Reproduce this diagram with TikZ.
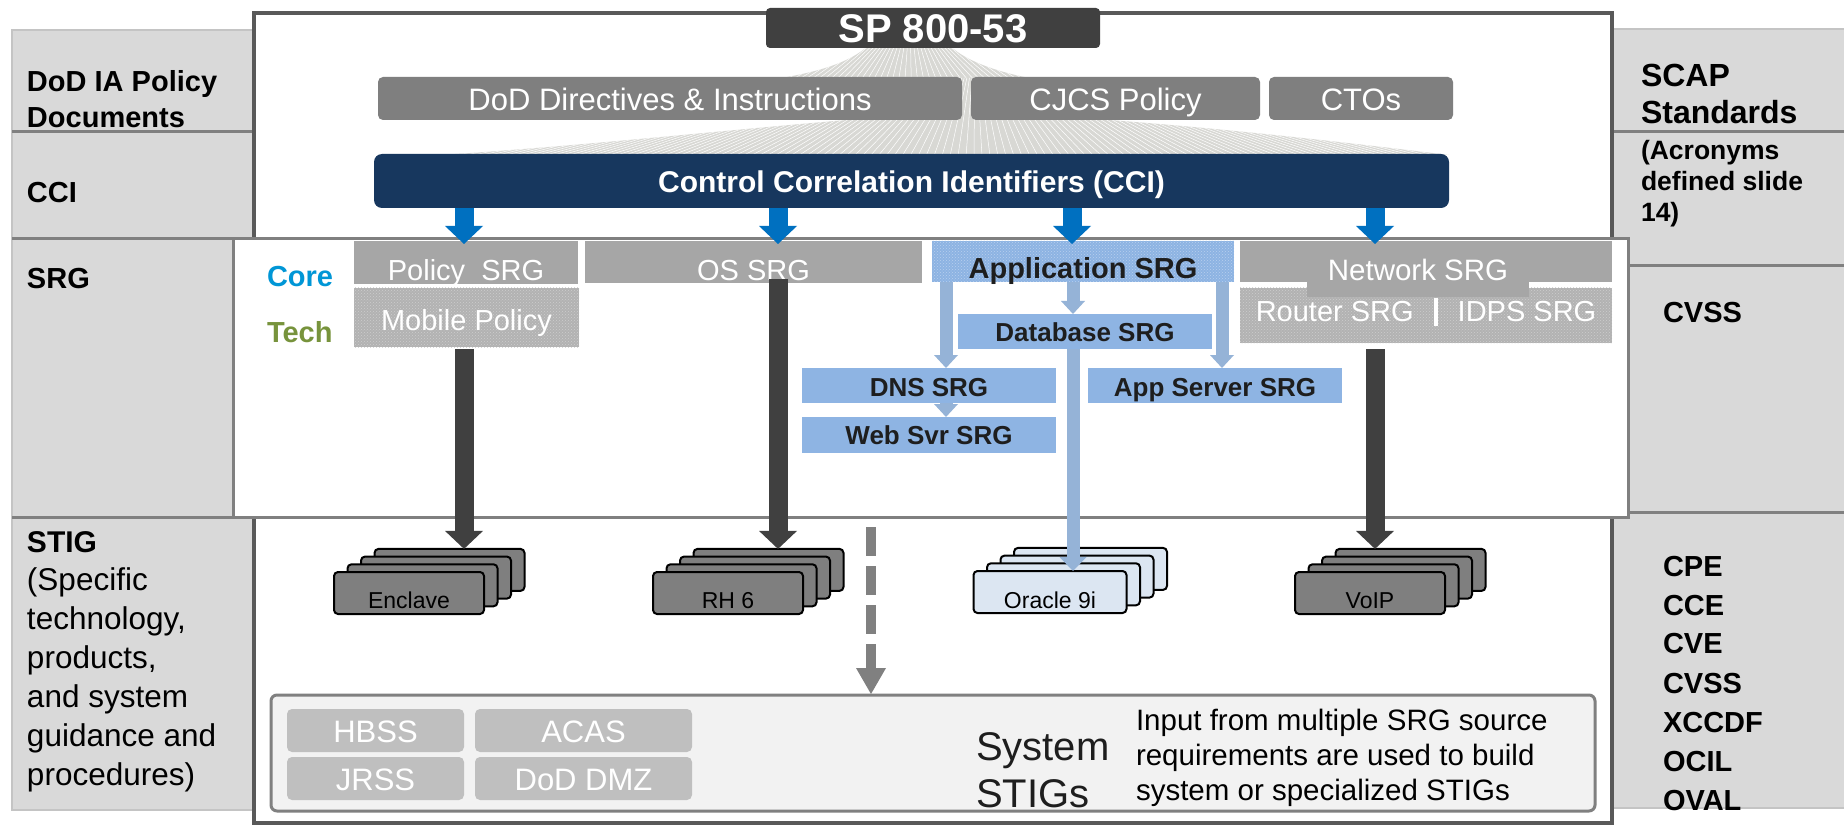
\documentclass[tikz,border=0pt]{standalone}
\usepackage{fontspec}
\setmainfont{Liberation Sans}
\usetikzlibrary{calc,patterns}
\definecolor{colgray}{HTML}{D9D9D9}
\definecolor{divc}{HTML}{808080}
\definecolor{edgec}{HTML}{C4C4C4}
\definecolor{framec}{HTML}{595959}
\definecolor{spc}{HTML}{404040}
\definecolor{rowc}{HTML}{7F7F7F}
\definecolor{navyc}{HTML}{17375E}
\definecolor{cciblue}{HTML}{0070C0}
\definecolor{srgc}{HTML}{A6A6A6}
\definecolor{dotc}{HTML}{B2B2B2}
\definecolor{dotlc}{HTML}{CDCDCD}
\definecolor{appc}{HTML}{8DB3E2}
\definecolor{applc}{HTML}{B8D0EF}
\definecolor{lbluec}{HTML}{8EB4E3}
\definecolor{arrbluec}{HTML}{95B3D7}
\definecolor{corec}{HTML}{0096D6}
\definecolor{techc}{HTML}{77933C}
\definecolor{darkc}{HTML}{404040}
\definecolor{cardc}{HTML}{7F7F7F}
\definecolor{cardbc}{HTML}{DCE6F2}
\definecolor{sysc}{HTML}{F2F2F2}
\definecolor{smallc}{HTML}{BFBFBF}
\definecolor{dashc}{HTML}{808080}
\definecolor{txtc}{HTML}{1E1E1E}
\definecolor{fanc}{HTML}{D8D8D4}
\newcommand\fsz[1]{\fontsize{#1}{#1}\selectfont}
\newcommand\ahead[4]{\fill[#1] #2 -- ++(-#3,-#4) -- ++(2*#3,0) -- cycle;}
\newcommand\cardstack[5]{\foreach \k in {3,2,1,0}{\node[card,fill=#4,minimum width=#5pt] (#1\k) at ({#2+13.5*\k},{#3-7.7*\k}) {};}}
\begin{document}
\begin{tikzpicture}[x=1pt,y=-1pt,
  every node/.style={inner sep=0pt,outer sep=0pt},
  box/.style={rectangle,anchor=north west,text depth=0pt},
  rowbox/.style={box,fill=rowc,rounded corners=5pt,text=white,font=\fsz{31},text height=25pt,minimum height=43pt},
  srgbox/.style={box,fill=srgc,text=white,font=\fsz{29}},
  dotbox/.style={box,fill=dotc,postaction={pattern=crosshatch dots,pattern color=dotlc},text=white,font=\fsz{29}},
  bluebox/.style={box,fill=lbluec,text=txtc,font=\fsz{26}\bfseries,minimum width=254pt},
  card/.style={rectangle,draw=black,line width=2pt,rounded corners=4pt,minimum height=42pt},
  cardtext/.style={anchor=base,font=\fsz{23},text=black},
  smallbox/.style={box,fill=smallc,rounded corners=5pt,text=white,font=\fsz{31},text height=23pt,minimum height=43pt},
  lab/.style={anchor=base west,font=\fsz{29}\bfseries,text=black},
  rlab/.style={anchor=base west,font=\fsz{32}\bfseries,text=black},
  slab/.style={anchor=base west,font=\fsz{26.5}\bfseries,text=black},
  desc/.style={anchor=base west,font=\fsz{31.5},text=black},
  note/.style={anchor=base west,font=\fsz{29.5},text=black}]
\useasboundingbox (0,0) rectangle (1844,826);
% side columns
\fill[colgray] (12,30) rectangle (254,810);
\draw[edgec,line width=2pt] (254,30) -- (12,30) -- (12,810) -- (254,810);
\draw[divc,line width=3pt] (12,132) -- (254,132);
\draw[divc,line width=3pt] (12,239) -- (233,239);
\draw[divc,line width=3pt] (12,517.5) -- (233,517.5);
\fill[colgray] (1612,29) rectangle (1844,808);
\draw[edgec,line width=2pt] (1612,29) -- (1844,29);
\draw[edgec,line width=2pt] (1612,808) -- (1844,808);
\draw[divc,line width=3pt] (1610,132) -- (1844,132);
\draw[divc,line width=3pt] (1628,266) -- (1844,266);
\draw[divc,line width=3pt] (1628,512) -- (1844,512);
% main frame
\draw[framec,line width=4pt,fill=white] (254,13) rectangle (1612,823);
% fans
\begin{scope}
  \clip (868,46) .. controls (850,62) and (820,72) .. (775,79) -- (1035,79) .. controls (995,72) and (965,60) .. (950,46) -- cycle;
  \fill[fanc] (760,40) rectangle (1050,80);
  \foreach \i in {0,...,45} \draw[white,line width=0.5pt] (910,10) -- ({760+6.3*\i},80);
\end{scope}
\begin{scope}
  \clip (900,78) -- (900,116) .. controls (780,124) and (600,145) .. (440,155) -- (1449,155) .. controls (1350,143) and (1200,125) .. (1050,116) -- (1050,78) -- cycle;
  \fill[fanc] (430,70) rectangle (1460,156);
  \foreach \i in {0,...,130} \draw[white,line width=0.5pt] (975,40) -- ({430+8*\i},156);
\end{scope}
% top boxes
\node[box,fill=spc,rounded corners=4pt,minimum width=334pt,minimum height=40pt,text=white,font=\fsz{40}\bfseries,text height=30pt] (sp) at (766,8) {SP 800-53};
\node[rowbox,minimum width=584pt] (dod) at (378,77) {DoD Directives \& Instructions};
\node[rowbox,minimum width=289pt] (cjcs) at (971,77) {CJCS Policy};
\node[rowbox,minimum width=184pt] (ctos) at (1269,77) {CTOs};
\node[box,fill=navyc,rounded corners=8pt,minimum width=1075pt,minimum height=54pt,text=white,font=\fsz{30}\bfseries,text height=24pt] (cci) at (374,154) {Control Correlation Identifiers (CCI)};
% SRG box
\node[box,draw=divc,line width=3pt,fill=white,minimum width=1395pt,minimum height=279pt] (srg) at (233,238.5) {};
\node[srgbox,minimum width=224pt,minimum height=43pt,text height=35pt] (psrg) at (354,241) {Policy\ \ SRG};
\node[srgbox,minimum width=337pt,minimum height=42pt,text height=36pt] (ossrg) at (585,241) {OS SRG};
\node[box,fill=appc,postaction={pattern=crosshatch dots,pattern color=applc},text=txtc,font=\fsz{29}\bfseries,minimum width=302pt,minimum height=41pt,text height=35pt] (appsrg) at (932,241) {Application SRG};
\node[srgbox,minimum width=372pt,minimum height=41pt] (netsrg) at (1240,241) {};
\node[dotbox,minimum width=225pt,minimum height=59pt,text height=25pt] (mobile) at (354,288) {Mobile Policy};
\node[dotbox,minimum width=372pt,minimum height=55pt,text height=11pt] (router) at (1240,288) {Router SRG\hspace{20pt}\rule[-5pt]{4pt}{28pt}\hspace{20pt}IDPS SRG};
\node[srgbox,minimum width=222pt,minimum height=56pt,text height=22pt,font=\fsz{29.5}] (nettab) at (1307,241) {Network SRG};
\node[bluebox,minimum height=35pt,text height=19pt] (db) at (958,314) {Database SRG};
\node[bluebox,minimum height=35pt,text height=21pt] (dns) at (802,368) {DNS SRG};
\node[bluebox,minimum height=36pt,text height=18pt] (web) at (802,417) {Web Svr SRG};
\node[bluebox,minimum height=35pt,text height=21pt] (appsrv) at (1088,368) {App Server SRG};
\node[anchor=base west,font=\fsz{29}\bfseries,text=corec] (core) at (267,287) {Core};
\node[anchor=base west,font=\fsz{29}\bfseries,text=techc] (tech) at (267,342) {Tech};
% arrow x positions
\coordinate (xpol) at (464,0);
\coordinate (xos) at (778,0);
\coordinate (xapp) at (1072,0);
\coordinate (xnet) at (1375,0);
\coordinate (xdns) at (946,0);
\coordinate (xdb) at (1073,0);
\coordinate (xsrv) at (1222,0);
\coordinate (xdash) at (871,0);
% CCI arrows
\foreach \ca/\tb in {xpol/psrg,xos/ossrg,xapp/appsrg,xnet/netsrg}{
  \draw[cciblue,line width=19pt] (cci.south -| \ca) -- ($(\tb.north -| \ca)+(0,-14)$);
  \ahead{cciblue}{($(\tb.north -| \ca)+(0,3)$)}{19}{18}
}
% card stacks
\cardstack{enc}{409}{593}{cardc}{150}
\cardstack{rh}{728}{593}{cardc}{150}
\cardstack{ora}{1050}{592}{cardbc}{153}
\cardstack{voip}{1370}{593}{cardc}{150}
\node[cardtext] (enct) at ($(enc0.center)+(0,15)$) {Enclave};
\node[cardtext] (rht) at ($(rh0.center)+(0,15)$) {RH 6};
\node[cardtext] (orat) at ($(ora0.center)+(0,16)$) {Oracle 9i};
\node[cardtext] (voipt) at ($(voip0.center)+(0,15)$) {VoIP};
% light blue arrows
\draw[arrbluec,line width=13pt] (appsrg.south -| xdns) -- ($(dns.north -| xdns)+(0,-12)$);
\ahead{arrbluec}{(dns.north -| xdns)}{12}{13}
\draw[arrbluec,line width=13pt] (appsrg.south -| xdb) -- ($(db.north -| xdb)+(0,-12)$);
\ahead{arrbluec}{(db.north -| xdb)}{12}{13}
\draw[arrbluec,line width=13pt] (appsrg.south -| xsrv) -- ($(appsrv.north -| xsrv)+(0,-12)$);
\ahead{arrbluec}{(appsrv.north -| xsrv)}{12}{13}
\draw[arrbluec,line width=13pt] (dns.south -| xdns) -- ($(web.north -| xdns)+(0,-12)$);
\ahead{arrbluec}{(web.north -| xdns)}{12}{13}
\draw[arrbluec,line width=13pt] (db.south -| xdb) -- ($(ora0.north -| xdb)+(0,-13)$);
\ahead{arrbluec}{(ora0.north -| xdb)}{13.5}{14}
% dark arrows
\draw[darkc,line width=19pt] ($(mobile.south -| xpol)+(0,2)$) -- ($(enc3.north -| xpol)+(0,-17)$);
\ahead{darkc}{(enc3.north -| xpol)}{19}{18}
\draw[darkc,line width=19pt] ($(ossrg.south -| xos)+(0,-4)$) -- ($(rh3.north -| xos)+(0,-17)$);
\ahead{darkc}{(rh3.north -| xos)}{19}{18}
\draw[darkc,line width=19pt] ($(router.south -| xnet)+(0,6)$) -- ($(voip3.north -| xnet)+(0,-17)$);
\ahead{darkc}{(voip3.north -| xnet)}{19}{18}
% system STIGs
\node[box,draw=divc,line width=3pt,fill=sysc,rounded corners=6pt,minimum width=1324pt,minimum height=116pt] (sys) at (271,695) {};
\draw[dashc,line width=10pt,dash pattern=on 29pt off 10pt] ($(srg.south -| xdash)+(0,9.5)$) -- ($(sys.north -| xdash)+(0,-26)$);
\ahead{dashc}{($(sys.north -| xdash)+(0,-1)$)}{15}{26}
\node[smallbox,minimum width=177pt] (hbss) at (287,709) {HBSS};
\node[smallbox,minimum width=217pt] (acas) at (475,709) {ACAS};
\node[smallbox,minimum width=177pt] (jrss) at (287,757) {JRSS};
\node[smallbox,minimum width=217pt] (dmz) at (475,757) {DoD DMZ};
\node[anchor=base west,font=\fsz{40},text=txtc] (systxt) at (976,760) {System};
\node[anchor=base west,font=\fsz{40},text=txtc] (stigstxt) at (976,807) {STIGs};
\node[note] (in1) at (1136,730) {Input from multiple SRG source};
\node[note] (in2) at (1136,765) {requirements are used to build};
\node[note] (in3) at (1136,800) {system or specialized STIGs};
% left labels
\node[lab] (l1) at (27,92) {DoD IA Policy};
\node[lab] (l2) at (27,128) {Documents};
\node[lab] (l3) at (27,203) {CCI};
\node[lab] (l4) at (27,289) {SRG};
\node[lab,font=\fsz{30}\bfseries] (l5) at (27,552) {STIG};
\node[desc] (l6) at (27,590) {(Specific};
\node[desc] (l7) at (27,629) {technology,};
\node[desc] (l8) at (27,668) {products,};
\node[desc] (l9) at (27,707) {and system};
\node[desc] (l10) at (27,746) {guidance and};
\node[desc] (l11) at (27,785) {procedures)};
% right labels
\node[rlab] (r1) at (1641,87) {SCAP};
\node[rlab] (r2) at (1641,124) {Standards};
\node[slab] (r3) at (1641,160) {(Acronyms};
\node[slab] (r4) at (1641,191) {defined slide};
\node[slab] (r5) at (1641,222) {14)};
\node[lab] (r6) at (1663,323) {CVSS};
\node[lab] (r7) at (1663,576) {CPE};
\node[lab] (r8) at (1663,615) {CCE};
\node[lab] (r9) at (1663,653) {CVE};
\node[lab] (r10) at (1663,693) {CVSS};
\node[lab] (r11) at (1663,732) {XCCDF};
\node[lab] (r12) at (1663,771) {OCIL};
\node[lab] (r13) at (1663,810) {OVAL};
\end{tikzpicture}
\end{document}
